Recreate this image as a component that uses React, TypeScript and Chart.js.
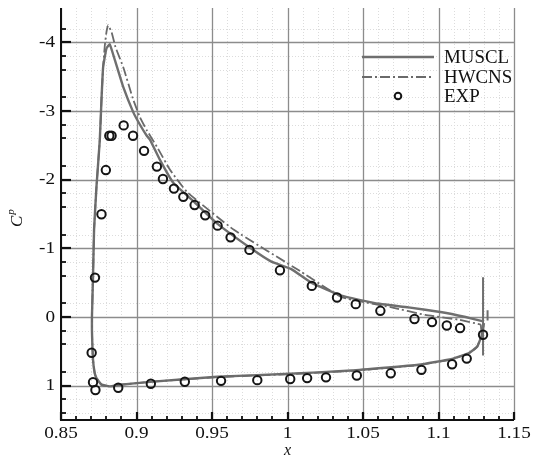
import React, { useEffect, useRef } from 'react';
import { Chart, registerables } from 'chart.js';

Chart.register(...registerables);

const xTickValues = [0.85, 0.9, 0.95, 1, 1.05, 1.1, 1.15];
const xTickLabels = ['0.85', '0.9', '0.95', '1', '1.05', '1.1', '1.15'];
const yTickValues = [-4, -3, -2, -1, 0, 1];
const yTickLabels = ['-4', '-3', '-2', '-1', '0', '1'];

const legendLabels = ['MUSCL', 'HWCNS', 'EXP'];

// MUSCL: lower surface from trailing edge, round the leading edge, upper surface back to trailing edge
const musclX = [
  1.1301, 1.129, 1.1257, 1.1201, 1.109, 1.0868, 1.0423, 0.9979, 0.9535, 0.909, 0.8879, 0.8823, 0.8768,
  0.8735, 0.8723, 0.8712, 0.8705, 0.8705, 0.8712, 0.8719, 0.8735, 0.8757, 0.8768, 0.8779, 0.8801, 0.8823,
  0.8857, 0.8912, 0.8979, 0.9023, 0.9068, 0.909, 0.9157, 0.9245, 0.9385, 0.9535, 0.9757, 0.989, 1.0023,
  1.0157, 1.0357, 1.0579, 1.0801, 1.1023, 1.1179, 1.129,
];
const musclCp = [
  0.09, 0.24, 0.43, 0.525, 0.61, 0.695, 0.78, 0.83, 0.87, 0.945, 0.99, 1.01, 0.985,
  0.89, 0.815, 0.62, 0.2, 0.0, -0.58, -1.27, -1.9, -2.58, -3.16, -3.64, -3.91, -3.97,
  -3.74, -3.35, -2.98, -2.8, -2.64, -2.58, -2.28, -1.95, -1.67, -1.36, -1.0, -0.81, -0.7,
  -0.5, -0.31, -0.2, -0.14, -0.07, 0.0, 0.06,
];

const hwcnsX = [
  1.128, 1.1285, 1.1255, 1.12, 1.109, 1.0868, 1.0423, 0.9979, 0.9535, 0.909, 0.8879, 0.8823, 0.8768,
  0.8735, 0.8723, 0.8712, 0.8705, 0.8705, 0.8712, 0.8719, 0.8735, 0.8757, 0.8768, 0.8779, 0.879, 0.8801,
  0.8812, 0.8835, 0.8861, 0.8912, 0.8979, 0.9023, 0.9068, 0.9135, 0.9223, 0.9335, 0.9645, 1.009, 1.0357,
  1.069, 1.0912, 1.1135, 1.128,
];
const hwcnsCp = [
  0.11, 0.26, 0.435, 0.53, 0.615, 0.7, 0.785, 0.835, 0.875, 0.945, 0.99, 1.01, 0.985,
  0.89, 0.815, 0.62, 0.2, 0.0, -0.58, -1.27, -1.9, -2.58, -3.16, -3.64, -3.95, -4.15,
  -4.25, -4.15, -3.93, -3.64, -3.16, -2.91, -2.72, -2.48, -2.14, -1.82, -1.27, -0.66, -0.29,
  -0.14, -0.03, 0.04, 0.11,
];

const expX = [
  0.8725, 0.8768, 0.8797, 0.882, 0.8835, 0.8915, 0.8977, 0.905, 0.9135, 0.9175, 0.9248, 0.931, 0.9385,
  0.9455, 0.9537, 0.9623, 0.9748, 0.995, 1.0161, 1.0328, 1.0452, 1.0615, 1.0841, 1.0957, 1.1055, 1.1143,
  1.1295, 0.8703, 0.8712, 0.8728, 0.8879, 0.9095, 0.932, 0.956, 0.98, 1.0018, 1.013, 1.0255, 1.0459,
  1.0684, 1.0887, 1.109, 1.1187,
];
const expCp = [
  -0.574, -1.496, -2.14, -2.64, -2.64, -2.79, -2.64, -2.42, -2.19, -2.01, -1.87, -1.75, -1.63,
  -1.48, -1.33, -1.16, -0.977, -0.68, -0.453, -0.284, -0.187, -0.09, 0.029, 0.074, 0.124, 0.161,
  0.259, 0.52, 0.95, 1.063, 1.03, 0.972, 0.943, 0.93, 0.92, 0.903, 0.89, 0.879, 0.852,
  0.82, 0.77, 0.688, 0.606,
];

// trailing-edge vertical strokes of the MUSCL curve
const spikeX = [1.1295, 1.1295];
const spikeCp = [-0.58, 0.56];
const spike2X = [1.1325, 1.1325];
const spike2Cp = [-0.1, 0.05];

const zip = (xs: number[], ys: number[]) => xs.map((x, i) => ({ x, y: ys[i] }));

const SERIF = '"Liberation Serif", "Times New Roman", serif';
const LINE_GRAY = '#6f6f6f';
const DASH_GRAY = '#6a6a6a';

function stretchedText(ctx: any, text: string, x: number, y: number, align: string, sx: number) {
  ctx.save();
  ctx.translate(x, y);
  ctx.scale(sx, 1);
  ctx.textAlign = align;
  ctx.fillText(text, 0, 0);
  ctx.restore();
}

const decorPlugin = {
  id: 'decor',
  beforeDatasetsDraw(chart: any) {
    const { ctx, chartArea, scales } = chart;
    const { left, right, top, bottom } = chartArea;
    const xs = scales.x;
    const ys = scales.y;
    ctx.save();
    // minor grid
    ctx.strokeStyle = '#dcdcdc';
    ctx.lineWidth = 1;
    ctx.setLineDash([1, 2]);
    for (let i = 1; i < 30; i++) {
      if (i % 5 === 0) continue;
      const px = Math.round(xs.getPixelForValue(0.85 + i * 0.01)) + 0.5;
      ctx.beginPath();
      ctx.moveTo(px, top);
      ctx.lineTo(px, bottom);
      ctx.stroke();
    }
    for (let i = 0; i <= 30; i++) {
      if (i % 5 === 0) continue;
      const py = Math.round(ys.getPixelForValue(-4.4 + i * 0.2)) + 0.5;
      ctx.beginPath();
      ctx.moveTo(left, py);
      ctx.lineTo(right, py);
      ctx.stroke();
    }
    // major grid
    ctx.setLineDash([]);
    ctx.strokeStyle = '#8c8c8c';
    ctx.lineWidth = 1.3;
    xTickValues.forEach((v) => {
      const px = Math.round(xs.getPixelForValue(v)) + 0.5;
      ctx.beginPath();
      ctx.moveTo(px, top);
      ctx.lineTo(px, bottom);
      ctx.stroke();
    });
    yTickValues.forEach((v) => {
      const py = Math.round(ys.getPixelForValue(v)) + 0.5;
      ctx.beginPath();
      ctx.moveTo(left, py);
      ctx.lineTo(right, py);
      ctx.stroke();
    });
    ctx.restore();
  },
  afterDatasetsDraw(chart: any) {
    const { ctx, chartArea, scales } = chart;
    const { left, right, top, bottom } = chartArea;
    const xs = scales.x;
    const ys = scales.y;
    ctx.save();
    // axes
    ctx.strokeStyle = '#111';
    ctx.lineWidth = 2;
    ctx.beginPath();
    ctx.moveTo(left, top);
    ctx.lineTo(left, bottom);
    ctx.lineTo(right, bottom);
    ctx.stroke();
    // minor ticks
    ctx.lineWidth = 1.8;
    for (let i = 1; i < 30; i++) {
      if (i % 5 === 0) continue;
      const px = Math.round(xs.getPixelForValue(0.85 + i * 0.01));
      ctx.beginPath();
      ctx.moveTo(px, bottom);
      ctx.lineTo(px, bottom - 4);
      ctx.stroke();
    }
    for (let i = 0; i <= 30; i++) {
      if (i % 5 === 0) continue;
      const py = Math.round(ys.getPixelForValue(-4.4 + i * 0.2));
      ctx.beginPath();
      ctx.moveTo(left, py);
      ctx.lineTo(left + 5, py);
      ctx.stroke();
    }
    // major ticks
    ctx.lineWidth = 2.2;
    xTickValues.forEach((v) => {
      const px = Math.round(xs.getPixelForValue(v));
      ctx.beginPath();
      ctx.moveTo(px, bottom);
      ctx.lineTo(px, bottom - 8);
      ctx.stroke();
    });
    yTickValues.forEach((v) => {
      const py = Math.round(ys.getPixelForValue(v));
      ctx.beginPath();
      ctx.moveTo(left, py);
      ctx.lineTo(left + 10, py);
      ctx.stroke();
    });

    // tick labels
    ctx.fillStyle = '#111';
    ctx.font = `16px ${SERIF}`;
    ctx.textBaseline = 'middle';
    yTickValues.forEach((v, i) => {
      stretchedText(ctx, yTickLabels[i], 55, ys.getPixelForValue(v) + 0.5, 'right', 1.2);
    });
    xTickValues.forEach((v, i) => {
      stretchedText(ctx, xTickLabels[i], xs.getPixelForValue(v), 433.5, 'center', 1.2);
    });

    // legend
    const lx0 = 362;
    const lx1 = 434;
    const tx = 444;
    const rows = [57, 77, 96];
    ctx.lineCap = 'butt';
    ctx.strokeStyle = LINE_GRAY;
    ctx.lineWidth = 2.4;
    ctx.beginPath();
    ctx.moveTo(lx0, rows[0]);
    ctx.lineTo(lx1, rows[0]);
    ctx.stroke();
    ctx.strokeStyle = DASH_GRAY;
    ctx.lineWidth = 1.8;
    ctx.setLineDash([10, 3, 2, 3]);
    ctx.beginPath();
    ctx.moveTo(lx0, rows[1]);
    ctx.lineTo(lx1, rows[1]);
    ctx.stroke();
    ctx.setLineDash([]);
    ctx.strokeStyle = '#151515';
    ctx.lineWidth = 2;
    ctx.beginPath();
    ctx.arc((lx0 + lx1) / 2, rows[2], 3.3, 0, Math.PI * 2);
    ctx.stroke();
    ctx.fillStyle = '#111';
    ctx.font = `18px ${SERIF}`;
    ctx.textBaseline = 'middle';
    legendLabels.forEach((t, i) => stretchedText(ctx, t, tx, rows[i] + 1, 'left', 1.05));

    // axis titles
    ctx.font = `italic 16px ${SERIF}`;
    ctx.textAlign = 'center';
    ctx.textBaseline = 'middle';
    ctx.fillText('x', (left + right) / 2, 451);

    ctx.save();
    ctx.translate(22, 227);
    ctx.rotate(-Math.PI / 2);
    ctx.textAlign = 'left';
    ctx.textBaseline = 'alphabetic';
    ctx.font = `italic 17px ${SERIF}`;
    ctx.fillText('C', 0, 0);
    const cw = ctx.measureText('C').width;
    ctx.font = `italic 11px ${SERIF}`;
    ctx.fillText('p', cw + 1, -8);
    ctx.restore();

    ctx.restore();
  },
};

export default function App() {
  const ref = useRef<HTMLCanvasElement | null>(null);
  useEffect(() => {
    document.body.style.margin = '0';
    if (!ref.current) return;
    const chart = new Chart(ref.current, {
      type: 'scatter',
      data: {
        datasets: [
          {
            label: 'EXP',
            data: zip(expX, expCp),
            showLine: false,
            pointRadius: 4.2,
            pointBorderWidth: 2,
            pointBorderColor: '#151515',
            pointBackgroundColor: 'rgba(0,0,0,0)',
            order: 0,
          },
          {
            label: 'MUSCL',
            data: zip(musclX, musclCp),
            showLine: true,
            borderColor: LINE_GRAY,
            borderWidth: 2.4,
            pointRadius: 0,
            tension: 0.12,
            order: 2,
          },
          {
            label: 'MUSCL-te',
            data: zip(spikeX, spikeCp),
            showLine: true,
            borderColor: LINE_GRAY,
            borderWidth: 2,
            pointRadius: 0,
            order: 2,
          },
          {
            label: 'MUSCL-te2',
            data: zip(spike2X, spike2Cp),
            showLine: true,
            borderColor: LINE_GRAY,
            borderWidth: 2,
            pointRadius: 0,
            order: 2,
          },
          {
            label: 'HWCNS',
            data: zip(hwcnsX, hwcnsCp),
            showLine: true,
            borderColor: DASH_GRAY,
            borderWidth: 1.8,
            borderDash: [10, 3, 2, 3],
            pointRadius: 0,
            tension: 0.12,
            order: 1,
          },
        ],
      },
      options: {
        animation: false,
        responsive: false,
        devicePixelRatio: 1,
        layout: { padding: { left: 0, right: 26, top: 8, bottom: 0 } },
        plugins: { legend: { display: false }, tooltip: { enabled: false } },
        scales: {
          x: {
            type: 'linear',
            min: 0.85,
            max: 1.15,
            grid: { display: false, drawTicks: false },
            border: { display: false },
            afterBuildTicks: (s: any) => {
              s.ticks = xTickValues.map((v) => ({ value: v }));
            },
            afterFit: (s: any) => {
              s.height = 44;
            },
            ticks: { display: false },
          },
          y: {
            type: 'linear',
            reverse: true,
            min: -4.5,
            max: 1.5,
            grid: { display: false, drawTicks: false },
            border: { display: false },
            afterBuildTicks: (s: any) => {
              s.ticks = yTickValues.map((v) => ({ value: v }));
            },
            afterFit: (s: any) => {
              s.width = 61;
            },
            ticks: { display: false },
          },
        },
      },
      plugins: [decorPlugin],
    });
    return () => chart.destroy();
  }, []);
  return (
    <div style={{ position: 'absolute', left: 0, top: 0, width: 540, height: 464, background: '#fff' }}>
      <canvas ref={ref} width={540} height={464} style={{ display: 'block' }} />
    </div>
  );
}
